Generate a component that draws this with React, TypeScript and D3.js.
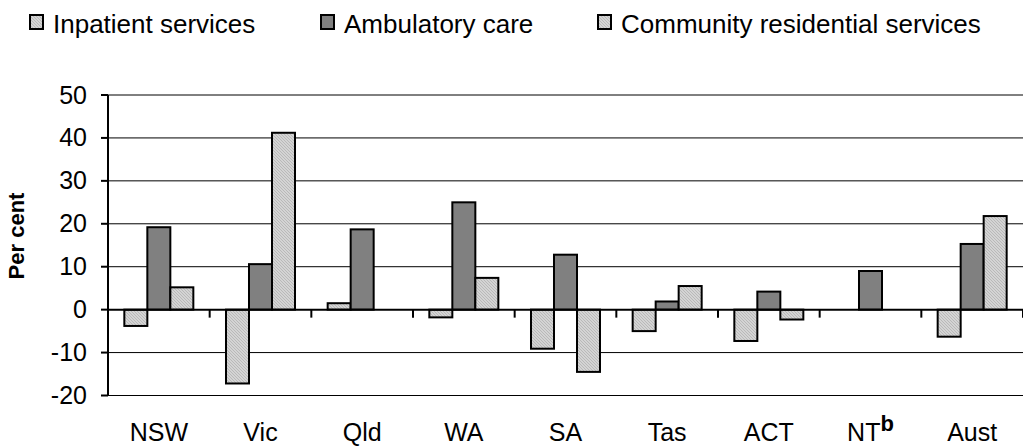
import * as d3 from 'd3'
import { useEffect, useRef } from 'react'

const states = ['NSW', 'Vic', 'Qld', 'WA', 'SA', 'Tas', 'ACT', 'NT', 'Aust']
const seriesNames = ['Inpatient services', 'Ambulatory care', 'Community residential services']
const inpatient = [-3.8, -17.2, 1.5, -1.8, -9.1, -5.0, -7.3, 0, -6.3]
const ambulatory = [19.2, 10.6, 18.7, 25.0, 12.8, 1.9, 4.2, 9.0, 15.3]
const community = [5.2, 41.2, 0, 7.4, -14.5, 5.5, -2.3, 0, 21.8]
const yTicks = [-20, -10, 0, 10, 20, 30, 40, 50]

const W = 1023
const H = 446
const font = 'Arial, "Liberation Sans", sans-serif'

export default function App() {
  const svgRef = useRef(null)

  const update = () => {
    const svg = d3.select(svgRef.current)
    svg.selectAll('*').remove()

    const defs = svg.append('defs')
    const pat = defs.append('pattern')
      .attr('id', 'hatch')
      .attr('patternUnits', 'userSpaceOnUse')
      .attr('width', 3)
      .attr('height', 3)
    pat.append('rect').attr('width', 3).attr('height', 3).attr('fill', '#d4d4d4')
    pat.append('path')
      .attr('d', 'M0,0 L3,3 M-1,2 L1,4 M2,-1 L4,1')
      .attr('stroke', '#b2b2b2')
      .attr('stroke-width', 0.8)

    const fills = ['url(#hatch)', '#808080', 'url(#hatch)']
    const series = [inpatient, ambulatory, community]

    const x0 = d3.scaleBand().domain(states).range([108, 1023]).paddingInner(0).paddingOuter(0)
    const x1 = d3.scaleBand().domain(['0', '1', '2']).range([0, x0.bandwidth()]).paddingOuter(0.71).paddingInner(0)
    const y = d3.scaleLinear().domain([-20, 50]).range([395.5, 95])

    // gridlines
    svg.append('g').selectAll('line').data(yTicks.filter(d => d !== 0)).join('line')
      .attr('x1', 108).attr('x2', 1023)
      .attr('y1', d => y(d)).attr('y2', d => y(d))
      .attr('stroke', '#000').attr('stroke-width', 1)

    // bars
    states.forEach((s, i) => {
      series.forEach((vals, j) => {
        const v = vals[i]
        if (v === 0) return
        svg.append('rect')
          .attr('x', x0(s) + x1(String(j)))
          .attr('y', y(Math.max(0, v)))
          .attr('width', x1.bandwidth())
          .attr('height', Math.abs(y(v) - y(0)))
          .attr('fill', fills[j])
          .attr('stroke', '#000')
          .attr('stroke-width', 2)
      })
    })

    // zero line
    svg.append('line')
      .attr('x1', 108).attr('x2', 1023)
      .attr('y1', y(0)).attr('y2', y(0))
      .attr('stroke', '#000').attr('stroke-width', 2)

    // x ticks at category boundaries
    svg.append('g').selectAll('line').data(states).join('line')
      .attr('x1', (d, i) => 108 + x0.bandwidth() * (i + 1))
      .attr('x2', (d, i) => 108 + x0.bandwidth() * (i + 1))
      .attr('y1', y(0)).attr('y2', y(0) + 8)
      .attr('stroke', '#000').attr('stroke-width', 2)

    // y axis
    svg.append('line')
      .attr('x1', 108).attr('x2', 108)
      .attr('y1', y(50)).attr('y2', y(-20))
      .attr('stroke', '#000').attr('stroke-width', 2)
    const yg = svg.append('g')
    yg.selectAll('line').data(yTicks).join('line')
      .attr('x1', 101).attr('x2', 108)
      .attr('y1', d => y(d)).attr('y2', d => y(d))
      .attr('stroke', '#000').attr('stroke-width', 2)
    yg.selectAll('text').data(yTicks).join('text')
      .attr('x', 87).attr('y', d => y(d) + 8.5)
      .attr('text-anchor', 'end')
      .style('font-family', font).style('font-size', '25px')
      .text(d => d)

    // y title
    svg.append('text')
      .attr('transform', 'translate(24, 236) rotate(-90)')
      .attr('text-anchor', 'middle')
      .style('font-family', font).style('font-size', '22px').style('font-weight', 'bold')
      .text('Per cent')

    // x labels
    const xl = svg.append('g')
    states.forEach(s => {
      const t = xl.append('text')
        .attr('x', x0(s) + x0.bandwidth() / 2)
        .attr('y', 441)
        .attr('text-anchor', 'middle')
        .style('font-family', font).style('font-size', '25px')
      t.append('tspan').text(s)
      if (s === 'NT') {
        t.append('tspan').attr('dy', -10).style('font-weight', 'bold').style('font-size', '22px').text('b')
      }
    })

    // legend
    const legX = [29, 320, 597]
    seriesNames.forEach((name, j) => {
      const g = svg.append('g').attr('transform', `translate(${legX[j]}, 15)`)
      g.append('rect')
        .attr('x', 1).attr('y', 0).attr('width', 13).attr('height', 14)
        .attr('fill', fills[j]).attr('stroke', '#000').attr('stroke-width', 2)
      g.append('text')
        .attr('x', 24).attr('y', 18)
        .style('font-family', font).style('font-size', '26px')
        .text(name)
    })
  }

  useEffect(() => {
    update()
  })

  return (
    <div style={{ position: 'absolute', left: 0, top: 0, width: W, height: H }}>
      <svg ref={svgRef} width={W} height={H}></svg>
    </div>
  )
}
